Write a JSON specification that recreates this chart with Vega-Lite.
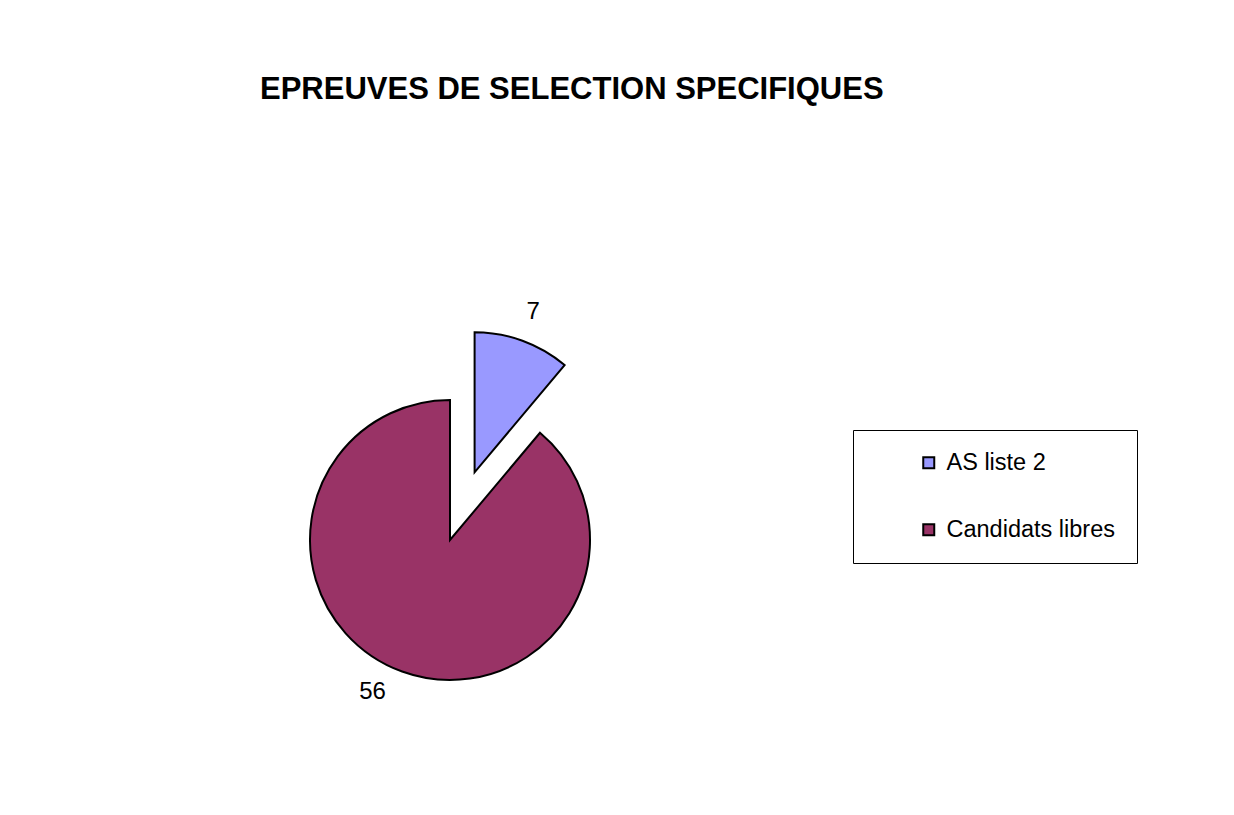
{
  "$schema": "https://vega.github.io/schema/vega-lite/v6.json",
  "width": 600,
  "height": 500,
  "autosize": {"type": "none"},
  "padding": {"left": 150, "top": 290, "right": 484, "bottom": 25},
  "background": "white",
  "title": {
    "text": "EPREUVES DE SELECTION SPECIFIQUES",
    "anchor": "start",
    "frame": "group",
    "dx": 110,
    "offset": 160,
    "baseline": "alphabetic",
    "font": "Liberation Sans",
    "fontSize": 31,
    "fontWeight": "bold",
    "color": "black"
  },
  "data": {
    "values": [
      {"category": "AS liste 2", "value": 7},
      {"category": "Candidats libres", "value": 56}
    ]
  },
  "layer": [
    {
      "mark": {"type": "arc", "radius": 140, "stroke": "black", "strokeWidth": 2},
      "encoding": {
        "theta": {"field": "value", "type": "quantitative", "stack": true, "scale": {"nice": false}},
        "color": {
          "field": "category",
          "type": "nominal",
          "scale": {"domain": ["AS liste 2", "Candidats libres"], "range": ["#9999FF", "#993366"]},
          "legend": {
            "title": null,
            "orient": "none",
            "legendX": 703,
            "legendY": 140,
            "strokeColor": "black",
            "fillColor": "white",
            "padding": 21,
            "symbolType": "square",
            "symbolSize": 121,
            "symbolStrokeColor": "black",
            "symbolStrokeWidth": 2,
            "symbolOpacity": 1,
            "symbolOffset": 43,
            "labelFont": "Liberation Sans",
            "labelFontSize": 23.5,
            "labelColor": "black",
            "labelOffset": 6,
            "labelLimit": 400,
            "rowPadding": 42
          }
        },
        "opacity": {"condition": {"test": "datum.category === 'AS liste 2'", "value": 0}, "value": 1}
      }
    },
    {
      "mark": {"type": "arc", "radius": 140, "stroke": "black", "strokeWidth": 2, "xOffset": 24.6, "yOffset": -67.7},
      "encoding": {
        "theta": {"field": "value", "type": "quantitative", "stack": true, "scale": {"nice": false}},
        "color": {"field": "category", "type": "nominal"},
        "opacity": {"condition": {"test": "datum.category === 'AS liste 2'", "value": 1}, "value": 0}
      }
    },
    {
      "mark": {"type": "text", "radius": 171, "font": "Liberation Sans", "fontSize": 24, "fill": "black", "dx": 24.6, "dy": -67.7},
      "encoding": {
        "theta": {"field": "value", "type": "quantitative", "stack": true},
        "detail": {"field": "category"},
        "text": {"field": "value"},
        "opacity": {"condition": {"test": "datum.category === 'AS liste 2'", "value": 1}, "value": 0}
      }
    },
    {
      "mark": {"type": "text", "radius": 171, "font": "Liberation Sans", "fontSize": 24, "fill": "black", "dx": -19, "dy": -9},
      "encoding": {
        "theta": {"field": "value", "type": "quantitative", "stack": true},
        "detail": {"field": "category"},
        "text": {"field": "value"},
        "opacity": {"condition": {"test": "datum.category === 'AS liste 2'", "value": 0}, "value": 1}
      }
    }
  ],
  "config": {"view": {"stroke": null}}
}
